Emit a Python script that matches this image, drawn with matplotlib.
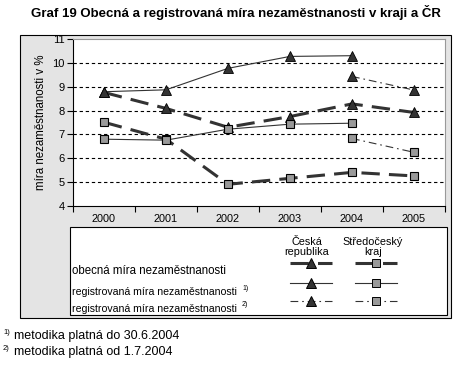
import matplotlib
matplotlib.use("Agg")
import matplotlib.pyplot as plt
from matplotlib.patches import Rectangle
from matplotlib.lines import Line2D
import numpy as np

plt.rcParams['font.family'] = ['Liberation Sans', 'DejaVu Sans']

years = ['2000', '2001', '2002', '2003', '2004', '2005']
cr_obecna = [8.76, 8.09, 7.3, 7.75, 8.28, 7.92]
stc_obecna = [7.51, 6.8, 4.91, 5.16, 5.41, 5.26]
cr_reg1 = [8.79, 8.87, 9.77, 10.27, 10.3, None]
stc_reg1 = [6.8, 6.76, 7.22, 7.43, 7.47, None]
cr_reg2 = [None, None, None, None, 9.43, 8.86]
stc_reg2 = [None, None, None, None, 6.83, 6.25]

W, H = 472, 365
fig = plt.figure(figsize=(W / 100, H / 100), dpi=100)
fig.patch.set_facecolor('white')

def fx(px):
    return px / W

def fy(py):
    return 1 - py / H

# outer chart area
fig.patches.append(Rectangle((fx(20), fy(318)), fx(451) - fx(20), fy(35) - fy(318),
                             transform=fig.transFigure, facecolor='#e4e4e4',
                             edgecolor='black', linewidth=0.8, zorder=-2))

fig.text(fx(236), fy(12), 'Graf 19 Obecná a registrovaná míra nezaměstnanosti v kraji a ČR',
         ha='center', va='center', fontsize=9.5, fontweight='bold')

ax = fig.add_axes([fx(73), fy(206), fx(445) - fx(73), fy(39) - fy(206)])
ax.set_zorder(2)
ax.set_facecolor('white')
x = np.arange(len(years))

def arr(v):
    return np.array([np.nan if a is None else a for a in v], dtype=float)

dark = '#333333'
sq_face = '#999999'
thick_dash = (6, 3)
dd = (7, 3.5, 1.5, 3.5)

ax.plot(x, arr(cr_obecna), color=dark, lw=2.2, dashes=thick_dash,
        marker='^', ms=6.5, mfc=dark, mec='black', mew=0.6, zorder=4)
ax.plot(x, arr(stc_obecna), color=dark, lw=2.2, dashes=thick_dash,
        marker='s', ms=5.8, mfc=sq_face, mec='black', mew=0.8, zorder=4)
ax.plot(x, arr(cr_reg1), color=dark, lw=0.8,
        marker='^', ms=6.5, mfc=dark, mec='black', mew=0.6, zorder=5)
ax.plot(x, arr(stc_reg1), color=dark, lw=0.8,
        marker='s', ms=5.8, mfc=sq_face, mec='black', mew=0.8, zorder=5)
ax.plot(x, arr(cr_reg2), color=dark, lw=0.8, dashes=dd,
        marker='^', ms=6.5, mfc=dark, mec='black', mew=0.6, zorder=5)
ax.plot(x, arr(stc_reg2), color=dark, lw=0.8, dashes=dd,
        marker='s', ms=5.8, mfc=sq_face, mec='black', mew=0.8, zorder=5)

ax.set_xlim(-0.5, len(years) - 0.5)
ax.set_ylim(4, 11)
ax.set_yticks(range(4, 12))
ax.set_yticklabels([str(v) for v in range(4, 12)], fontsize=8)
ax.set_xticks(x)
ax.set_xticklabels(years, fontsize=7.8)
ax.tick_params(axis='x', length=0, pad=6)
ax.set_xticks(np.arange(-0.5, len(years), 1), minor=True)
ax.tick_params(axis='x', which='minor', length=4, direction='out', width=0.8)
ax.tick_params(axis='y', length=4, direction='out', width=0.8, pad=2)
for yv in range(5, 11):
    ax.axhline(yv, color='black', lw=0.8, dashes=(3, 2.5), zorder=1)
ax.spines['left'].set_color('black')
ax.spines['bottom'].set_color('black')
ax.spines['top'].set_color('#999999')
ax.spines['right'].set_color('#999999')
ax.set_ylabel('míra nezaměstnanosti v %', fontsize=8.3, labelpad=4)

# legend box
fig.patches.append(Rectangle((fx(70), fy(315)), fx(447) - fx(70), fy(227) - fy(315),
                             transform=fig.transFigure, facecolor='white',
                             edgecolor='black', linewidth=0.8, zorder=-1))
fig.text(fx(307), fy(247), 'Česká\nrepublika', ha='center', va='center', fontsize=7.8,
         linespacing=1.1)
fig.text(fx(373), fy(247), 'Středočeský\nkraj', ha='center', va='center', fontsize=7.8,
         linespacing=1.1)
row_text_y = [271, 292, 309]
row_line_y = [263, 283, 301]
labels = ['obecná míra nezaměstnanosti', 'registrovaná míra nezaměstnanosti',
          'registrovaná míra nezaměstnanosti']
sizes = [8.3, 7.6, 7.6]
sups = [None, '1)', '2)']
for ty, lab, sp, fs in zip(row_text_y, labels, sups, sizes):
    fig.text(fx(72), fy(ty), lab, ha='left', va='center', fontsize=fs)
    if sp:
        fig.text(fx(242), fy(ty - 4), sp, ha='left', va='center', fontsize=5)

styles = [dict(lw=2.2, dashes=thick_dash), dict(lw=0.8), dict(lw=0.8, dashes=dd)]
for ly, st in zip(row_line_y, styles):
    for x0, x1, mk, ms, mf in [(290, 332, '^', 6.5, dark), (355, 397, 's', 5.8, sq_face)]:
        fig.lines.append(Line2D([fx(x0), fx(x1)], [fy(ly), fy(ly)], transform=fig.transFigure,
                                color=dark, zorder=3, **st))
        fig.lines.append(Line2D([fx((x0 + x1) / 2)], [fy(ly)], transform=fig.transFigure,
                                marker=mk, ms=ms, mfc=mf, mec='black', mew=0.7,
                                linestyle='none', zorder=4))

fig.text(fx(3), fy(332), '1)', fontsize=5.5, ha='left', va='center')
fig.text(fx(14), fy(336), 'metodika platná do 30.6.2004', fontsize=9, ha='left', va='center')
fig.text(fx(3), fy(348), '2)', fontsize=5.5, ha='left', va='center')
fig.text(fx(14), fy(352), 'metodika platná od 1.7.2004', fontsize=9, ha='left', va='center')

fig.savefig('out.png', dpi=100)
